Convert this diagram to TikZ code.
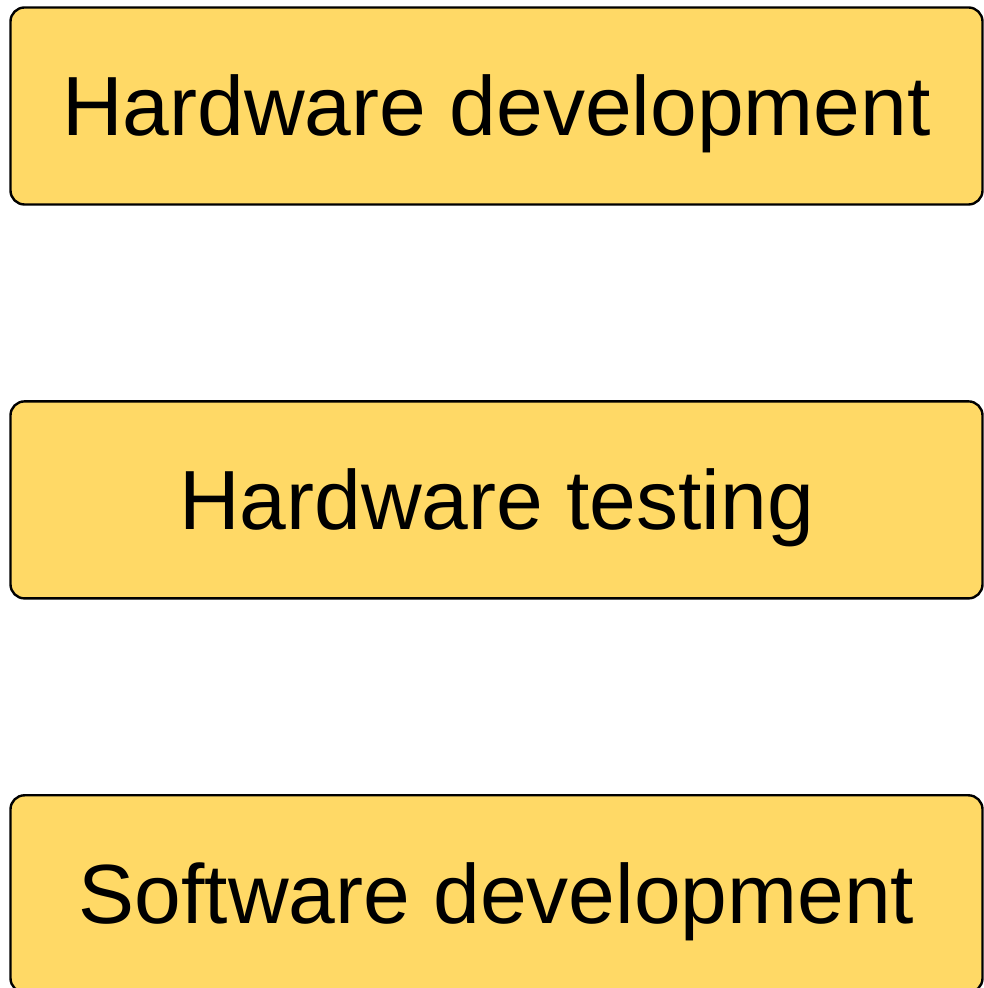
\documentclass[tikz,border=0pt]{standalone}
\usepackage{fontspec}
\setmainfont{Liberation Sans}
\usetikzlibrary{positioning}

\definecolor{boxyellow}{HTML}{FFD966}

\tikzset{
  stagebox/.style = {draw = black, fill = boxyellow, line width = 2.4pt,
    rounded corners = 14pt, minimum width = 972pt, minimum height = 197pt,
    inner sep = 0pt, text height = 60pt, text depth = 0pt,
    font = \fontsize{84}{96}\selectfont}
}

\begin{document}
\begin{tikzpicture}[x = 1pt, y = 1pt]
\useasboundingbox (0, 0) rectangle (984, 988);

\node[stagebox] (hwdev) at (496.5, 882) {Hardware development};
\node[stagebox, below = 194.5pt of hwdev] (hwtest) {Hardware testing};
\node[stagebox, below = 194.5pt of hwtest] (swdev) {Software development};
\end{tikzpicture}
\end{document}
